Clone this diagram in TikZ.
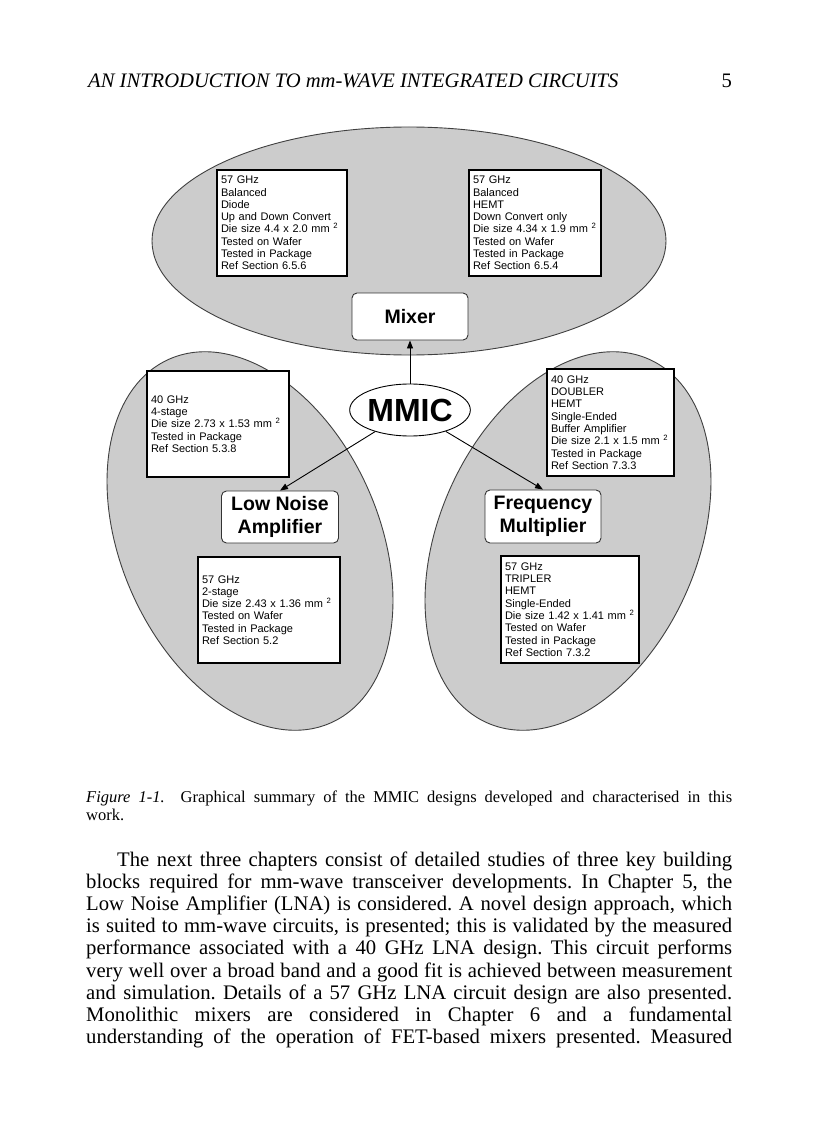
\documentclass[tikz,border=0pt]{standalone}
\usepackage{fontspec}
\setmainfont{Liberation Serif}
\setsansfont{Liberation Sans}
\usetikzlibrary{shapes.geometric,arrows.meta}
\frenchspacing

\begin{document}
\begin{tikzpicture}[x=1pt,y=-1pt,>={Triangle[length=8pt,width=6pt]},
  lobe/.style={draw=black!75, line width=0.9pt, fill=black!20},
  infobox/.style={draw, line width=1.3pt, fill=white, align=left, inner xsep=4pt, inner ysep=0pt,
    font=\sffamily\fontsize{11}{12.3}\selectfont},
  blockbox/.style={draw=black!80, line width=0.9pt, fill=white, rounded corners=5pt, align=center,
    inner sep=0pt, font=\sffamily\bfseries\fontsize{19.5}{22.5}\selectfont},
  textline/.style={anchor=base west, inner sep=0pt},
  bodyfont/.style={font=\fontsize{20.7}{22.2}\selectfont}]
\fill[white] (0,0) rectangle (816,1123);
\useasboundingbox (0,0) rectangle (816,1123);

% running head
\node[textline, font=\itshape\fontsize{20.6}{24}\selectfont] (head) at (88,88) {AN INTRODUCTION TO mm-WAVE INTEGRATED CIRCUITS};
\node[anchor=base east, inner sep=0pt, font=\fontsize{20.6}{24}\selectfont] (pageno) at (732,88) {5};

% the three shaded lobes
\draw[lobe] (409,241) ellipse [x radius=257, y radius=114];
\draw[lobe, rotate around={24:(250,541)}] (250,541) ellipse [x radius=129, y radius=199];
\draw[lobe, rotate around={-24:(568,541)}] (568,541) ellipse [x radius=129, y radius=199];

% mixer lobe
\node[infobox, text width=122pt, minimum height=106pt] (mixa) at (282,223) {57 GHz\\Balanced\\Diode\\Up and Down Convert\\Die size 4.4 x 2.0 mm~\textsuperscript{2}\\Tested on Wafer\\Tested in Package\\Ref Section 6.5.6};
\node[infobox, text width=124pt, minimum height=106pt] (mixb) at (535,223) {57 GHz\\Balanced\\HEMT\\Down Convert only\\Die size 4.34 x 1.9 mm~\textsuperscript{2}\\Tested on Wafer\\Tested in Package\\Ref Section 6.5.4};
\node[blockbox, minimum width=116pt, minimum height=47pt] (mixer) at (410,316.5) {Mixer};

% centre
\node[ellipse, draw, line width=0.9pt, fill=white, inner sep=0pt, minimum width=117pt, minimum height=52pt,
  font=\sffamily\bfseries\fontsize{32}{32}\selectfont] (mmic) at (410,410) {MMIC};

% lna lobe
\node[infobox, text width=134pt, minimum height=106pt] (lnaa) at (218,424) {40 GHz\\4-stage\\Die size 2.73 x 1.53 mm~\textsuperscript{2}\\Tested in Package\\Ref Section 5.3.8};
\node[blockbox, minimum width=117pt, minimum height=52pt] (lna) at (280,517) {Low Noise\\Amplifier};
\node[infobox, text width=134pt, minimum height=106pt] (lnab) at (269,610) {57 GHz\\2-stage\\Die size 2.43 x 1.36 mm~\textsuperscript{2}\\Tested on Wafer\\Tested in Package\\Ref Section 5.2};

% multiplier lobe
\node[infobox, text width=119pt, minimum height=107pt] (mula) at (610.5,422.5) {40 GHz\\DOUBLER\\HEMT\\Single-Ended\\Buffer Amplifier\\Die size 2.1 x 1.5 mm~\textsuperscript{2}\\Tested in Package\\Ref Section 7.3.3};
\node[blockbox, minimum width=116pt, minimum height=53pt] (mult) at (543,516.5) {Frequency\\Multiplier};
\node[infobox, text width=130pt, minimum height=107pt] (mulb) at (570,609.5) {57 GHz\\TRIPLER\\HEMT\\Single-Ended\\Die size 1.42 x 1.41 mm~\textsuperscript{2}\\Tested on Wafer\\Tested in Package\\Ref Section 7.3.2};

\draw[->, line width=0.9pt] (mmic) -- (mixer);
\draw[->, line width=0.9pt] (mmic) -- (lna.north);
\draw[->, line width=0.9pt] (mmic) -- (mult.north);

% caption
\node[textline, font=\fontsize{16.5}{18}\selectfont] (capa) at (86,802) {\makebox[646pt][s]{\textit{Figure 1-1.}\ \ Graphical summary of the MMIC designs developed and characterised in this}};
\node[textline, font=\fontsize{16.5}{18}\selectfont] (capb) at (86,820) {work.};

% body text
\node[textline, bodyfont] (la) at (117,866) {\makebox[615pt][s]{The next three chapters consist of detailed studies of three key building}};
\node[textline, bodyfont] (lb) at (86,888.2) {\makebox[646pt][s]{blocks required for mm-wave transceiver developments. In Chapter 5, the}};
\node[textline, bodyfont] (lc) at (86,910.4) {\makebox[646pt][s]{Low Noise Amplifier (LNA) is considered. A novel design approach, which}};
\node[textline, bodyfont] (ld) at (86,932.6) {\makebox[646pt][s]{is suited to mm-wave circuits, is presented; this is validated by the measured}};
\node[textline, bodyfont] (le) at (86,954.8) {\makebox[646pt][s]{performance associated with a 40 GHz LNA design. This circuit performs}};
\node[textline, bodyfont] (lf) at (86,977) {\makebox[646pt][s]{very well over a broad band and a good fit is achieved between measurement}};
\node[textline, bodyfont] (lg) at (86,999.2) {\makebox[646pt][s]{and simulation. Details of a 57 GHz LNA circuit design are also presented.}};
\node[textline, bodyfont] (lh) at (86,1021.4) {\makebox[646pt][s]{Monolithic mixers are considered in Chapter 6 and a fundamental}};
\node[textline, bodyfont] (li) at (86,1043.6) {\makebox[646pt][s]{understanding of the operation of FET-based mixers presented. Measured}};
\end{tikzpicture}
\end{document}
